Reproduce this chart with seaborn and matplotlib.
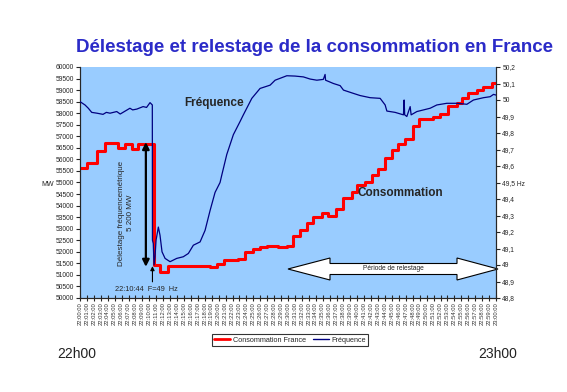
import numpy as np
import pandas as pd
import matplotlib.pyplot as plt
from matplotlib.lines import Line2D
from matplotlib.patches import Polygon
import seaborn as sns

# --------------------------
# Data (minutes after 22:00)
# --------------------------
conso_min = [0.0, 1.0, 2.45, 3.6, 5.5, 6.5, 7.5, 8.4, 10.73, 11.54, 12.7, 18.76, 19.77,
             20.78, 22.8, 23.8, 24.96, 25.97, 26.98, 28.57, 29.87, 30.74, 31.75, 32.76,
             33.6, 34.9, 35.8, 36.9, 37.95, 39.25, 39.97, 41.1, 42.1, 43.0, 44.0, 45.0,
             45.9, 46.9, 48.05, 48.9, 50.9, 51.95, 53.1, 54.4, 55.1, 56.0, 57.3, 58.15,
             59.45, 60.0]
conso_mw = [55620, 55850, 56380, 56700, 56510, 56650, 56450, 56650, 51430, 51140, 51385,
            51330, 51460, 51630, 51680, 52000, 52120, 52195, 52250, 52195, 52250, 52680,
            52940, 53230, 53490, 53660, 53560, 53840, 54320, 54610, 54900, 55040, 55320,
            55580, 56040, 56400, 56670, 56880, 57450, 57770, 57840, 57960, 58310, 58460,
            58650, 58870, 59000, 59150, 59300, 59300]

freq_min = [0.0, 0.72, 1.2, 1.69, 2.45, 3.32, 3.8, 4.33, 5.3, 5.8, 6.2, 7.2, 7.6, 8.2, 9.1,
            9.6, 10.1, 10.43, 10.45, 10.57, 10.68, 10.82, 10.97, 11.3, 11.54, 11.83,
            12.27, 12.99, 13.95, 14.9, 15.63, 16.35, 17.32, 18.04, 18.76, 19.48, 20.2,
            20.45, 21.17, 22.12, 23.09, 23.56, 24.78, 25.97, 27.42, 28.14, 29.83, 31.02,
            32.22, 33.19, 34.16, 35.1, 35.35, 35.42, 36.55, 37.52, 38.0, 39.44, 40.4,
            41.85, 43.29, 44.01, 44.26, 45.45, 46.65, 46.75, 46.83, 47.14, 47.62, 47.76,
            48.59, 50.5, 51.47, 52.9, 54.36, 55.8, 56.75, 58.2, 59.16, 59.64, 60.0]
freq_hz = [49.99, 49.97, 49.95, 49.925, 49.92, 49.913, 49.925, 49.92, 49.93, 49.915,
           49.925, 49.95, 49.94, 49.945, 49.96, 49.955, 49.984, 49.97, 49.15, 49.13, 49.0,
           49.05, 49.15, 49.23, 49.18, 49.08, 49.04, 49.02, 49.04, 49.05, 49.07, 49.12,
           49.14, 49.21, 49.33, 49.44, 49.50, 49.545, 49.67, 49.79, 49.87, 49.91, 50.01,
           50.07, 50.09, 50.12, 50.147, 50.145, 50.14, 50.127, 50.12, 50.125, 50.155,
           50.12, 50.10, 50.087, 50.06, 50.04, 50.027, 50.014, 50.01, 49.97, 49.933,
           49.925, 49.91, 50.0, 49.91, 49.90, 49.96, 49.91, 49.93, 49.95, 49.97, 49.98,
           49.98, 49.974, 50.0, 50.014, 50.02, 50.034, 50.03]

time_labels = ['22:%02d:00' % m for m in range(60)] + ['23:00:00']

conso = pd.DataFrame({'minute': conso_min, 'MW': conso_mw})
freq = pd.DataFrame({'minute': freq_min, 'Hz': freq_hz})

sns.set_style('ticks')
plt.rcParams['font.family'] = ['Liberation Sans', 'DejaVu Sans']

fig = plt.figure(figsize=(5.67, 3.92), dpi=100)
ax = fig.add_axes([80 / 567, 1 - 298 / 392, 416 / 567, 231 / 392])
ax.set_facecolor('#99CCFF')

sns.lineplot(data=conso, x='minute', y='MW', ax=ax, color='#FF0000', lw=2.2,
             drawstyle='steps-post', zorder=3)
ax2 = ax.twinx()
sns.lineplot(data=freq, x='minute', y='Hz', ax=ax2, color='#000080', lw=0.9, zorder=3)

ax.set_xlim(0, 60)
ax.set_ylim(50000, 60000)
ax2.set_ylim(48.8, 50.2)
ax.set_xlabel('')
ax.set_ylabel('')
ax2.set_ylabel('')

ax.set_xticks(range(61))
ax.set_xticklabels(time_labels, rotation=90, fontsize=4.2, color='#333333')
ax.set_yticks(np.arange(50000, 60001, 500))
ax.set_yticklabels([str(v) for v in range(50000, 60001, 500)], fontsize=4.8)


def hz_label(v):
    s = ('%.1f' % v).replace('.', ',')
    if s.endswith(',0'):
        s = s[:-2]
    if abs(v - 49.5) < 1e-6:
        s += ' Hz'
    return s


hz_ticks = np.round(np.arange(48.8, 50.21, 0.1), 1)
ax2.set_yticks(hz_ticks)
ax2.set_yticklabels([hz_label(v) for v in hz_ticks], fontsize=4.8)
ax.tick_params(axis='x', direction='inout', length=4, width=0.8, pad=1)
ax.tick_params(axis='y', length=3, width=0.8, pad=1.5)
ax2.tick_params(axis='y', length=3, width=0.8, pad=1.5)
for a in (ax, ax2):
    a.spines['top'].set_visible(False)
    for s in ('left', 'right', 'bottom'):
        a.spines[s].set_linewidth(0.8)
ax2.patch.set_visible(False)

fig.text(48 / 567, 1 - 184 / 392, 'MW', fontsize=5, ha='center', va='center')

# Title and time markers
fig.text(315 / 567, 1 - 47 / 392, 'Délestage et relestage de la consommation en France',
         fontsize=13.5, fontweight='bold', color='#2B2BC8', ha='center', va='center')
fig.text(77 / 567, 1 - 354 / 392, '22h00', fontsize=10, ha='center', va='center', color='#222222')
fig.text(498 / 567, 1 - 354 / 392, '23h00', fontsize=10, ha='center', va='center', color='#222222')

# Annotations
ax.text(19.3, 58440, 'Fréquence', fontsize=8.5, fontweight='bold', ha='center', va='center')
ax.text(46.2, 54550, 'Consommation', fontsize=8.5, fontweight='bold', ha='center', va='center')

ax.annotate('', xy=(9.5, 56750), xytext=(9.5, 51350),
            arrowprops=dict(arrowstyle='<|-|>', color='black', lw=1.6, mutation_scale=10,
                            shrinkA=0, shrinkB=0))
ax.text(6.6, 53680, 'Délestage fréquencemétrique\n5 200 MW', rotation=90, fontsize=5.8,
        ha='center', va='center', linespacing=1.3)
ax.annotate('', xy=(10.45, 51380), xytext=(10.45, 50700),
            arrowprops=dict(arrowstyle='-|>', color='black', lw=0.8, mutation_scale=6,
                            shrinkA=0, shrinkB=0))
ax.text(9.6, 50350, '22:10:44  F=49  Hz', fontsize=5.3, ha='center', va='center')

# block double arrow "Période de relestage" (axes fraction coords)
px = [288, 330, 330, 457, 457, 498, 457, 457, 330, 330]
py = [269, 258, 263.5, 263.5, 258, 269, 280, 274.5, 274.5, 280]
verts = [((x - 80) / 416, (298 - y) / 231) for x, y in zip(px, py)]
ax.add_patch(Polygon(verts, closed=True, facecolor='white', edgecolor='black', lw=0.8,
                     transform=ax.transAxes, zorder=4, clip_on=False))
ax.text((393 - 80) / 416, (298 - 269) / 231, 'Période de relestage', fontsize=4.8,
        ha='center', va='center', transform=ax.transAxes, zorder=5)

handles = [Line2D([], [], color='#FF0000', lw=2), Line2D([], [], color='#000080', lw=1)]
leg = fig.legend(handles, ['Consommation France', 'Fréquence'], loc='center',
                 bbox_to_anchor=(290 / 567, 1 - 340 / 392), ncol=2, fontsize=5.2,
                 frameon=True, fancybox=False, handlelength=2.2, columnspacing=1.0,
                 handletextpad=0.4, borderpad=0.3, borderaxespad=0)
leg.get_frame().set_edgecolor('black')
leg.get_frame().set_linewidth(0.8)

plt.savefig('out.png', dpi=100)
plt.close()
